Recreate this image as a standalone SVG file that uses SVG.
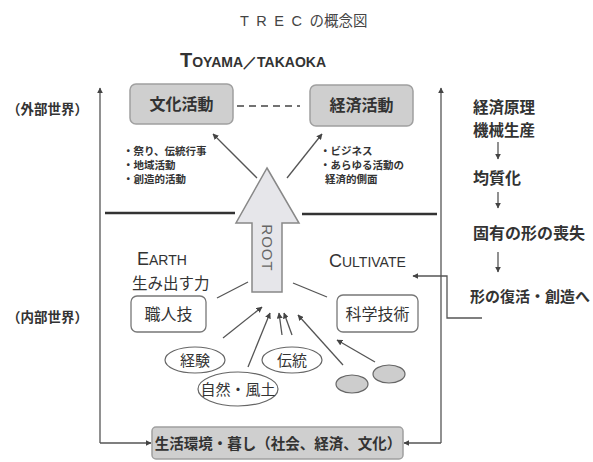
<svg xmlns="http://www.w3.org/2000/svg" width="593" height="462" viewBox="0 0 593 462">
<defs>
<marker id="ah" viewBox="0 0 10 10" refX="9" refY="5" markerWidth="6" markerHeight="6" markerUnits="userSpaceOnUse" orient="auto">
<path d="M0,0 L10,5 L0,10 Z" fill="#444"/>
</marker>
</defs>
<style>
text{font-family:"Noto Sans CJK JP","Noto Sans",sans-serif;fill:#333;font-weight:bold}
.lat{font-family:"Liberation Sans","DejaVu Sans",sans-serif}
.gbox{fill:#cfcfcf;stroke:#a0a0a0;stroke-width:1.5}
.wbox{fill:#fff;stroke:#777;stroke-width:1.3}
.ell{fill:#fff;stroke:#666;stroke-width:1.2}
.gell{fill:#cdcdcd;stroke:#666;stroke-width:1.2}
.ln{fill:none;stroke:#555;stroke-width:1.3}
.arr{fill:none;stroke:#555;stroke-width:1.3;marker-end:url(#ah)}
.thick{stroke:#333;stroke-width:2.5}
.t16{font-size:16px}
.t15{font-size:15px}
.t11{font-size:10.5px}
</style>
<rect width="593" height="462" fill="#fff"/>

<g id="title">
<text x="240" y="26" font-size="14.5" style="font-weight:normal;fill:#444"><tspan class="lat" letter-spacing="7.5">TREC</tspan>の概念図</text>
</g>
<g id="toyama">
<text class="lat" x="180" y="67" style="fill:#333"><tspan font-size="20">T</tspan><tspan font-size="14">OYAMA／TAKAOKA</tspan></text>
</g>

<g id="labels-side">
<text x="7" y="114" font-size="13.5">（外部世界）</text>
<text x="7" y="322" font-size="13.5">（内部世界）</text>
</g>

<g id="connectors">
<path class="arr" d="M100,443 V88"/>
<path class="arr" d="M100,443 H151"/>
<path class="arr" d="M441,443 V88"/>
<path class="arr" d="M441,443 H404"/>
<path d="M237,106 H300" fill="none" stroke="#444" stroke-width="1.6" stroke-dasharray="7,5"/>
<path class="arr" d="M257,178 L213,134"/>
<path class="arr" d="M287,178 L322,134"/>
<path class="ln" d="M217,298 L248,282"/>
<path class="ln" d="M293,283 L327,297"/>
<path class="arr" d="M223,338 L262,307"/>
<path class="arr" d="M248,367 L270,313"/>
<path class="arr" d="M282,335 L279,313"/>
<path class="arr" d="M292,335 L284,313"/>
<path class="arr" d="M343,365 L298,315"/>
<path class="arr" d="M375,362 L337,340"/>
<path class="arr" d="M482,318 H447 V276 H413"/>
<path class="arr" d="M498,142 V159"/>
<path class="arr" d="M498,192 V208"/>
<path class="arr" d="M498,252 V272"/>
<line class="thick" x1="105" y1="213" x2="235" y2="213"/>
<line class="thick" x1="302" y1="214" x2="437" y2="214"/>
</g>

<g id="bunka">
<rect class="gbox" x="130" y="84" width="103" height="40" rx="6"/>
<text class="t16" x="181.5" y="110" text-anchor="middle">文化活動</text>
</g>
<g id="keizai">
<rect class="gbox" x="310" y="85" width="103" height="41" rx="6"/>
<text class="t16" x="361.5" y="111" text-anchor="middle">経済活動</text>
</g>
<g id="bunka-notes">
<text class="t11" x="123" y="155">・祭り、伝統行事</text>
<text class="t11" x="123" y="169">・地域活動</text>
<text class="t11" x="123" y="183">・創造的活動</text>
</g>
<g id="keizai-notes">
<text class="t11" x="320" y="155">・ビジネス</text>
<text class="t11" x="320" y="169">・あらゆる活動の</text>
<text class="t11" x="325" y="183">経済的側面</text>
</g>

<g id="root">
<path d="M267,168 L299,223 L282,223 L282,292 L252,292 L252,223 L236,223 Z" fill="#e6e6ea" stroke="#888" stroke-width="1.5"/>
<text class="lat" x="0" y="0" font-size="15" letter-spacing="1" text-anchor="middle" transform="translate(262,248) rotate(90)" style="fill:#666;font-weight:normal">ROOT</text>
</g>

<g id="earth">
<text class="lat" x="137" y="265" style="font-weight:normal"><tspan font-size="18">E</tspan><tspan font-size="14">ARTH</tspan></text>
<text x="132" y="289" font-size="15.5" style="font-weight:normal">生み出す力</text>
</g>
<g id="cultivate">
<text class="lat" x="329" y="267" style="font-weight:normal"><tspan font-size="18">C</tspan><tspan font-size="14">ULTIVATE</tspan></text>
</g>

<g id="shokunin">
<rect class="wbox" x="131" y="296" width="75" height="36" rx="6"/>
<text class="t16" x="168.5" y="320" text-anchor="middle" style="font-weight:normal">職人技</text>
</g>
<g id="kagaku">
<rect class="wbox" x="337" y="295" width="81" height="37" rx="6"/>
<text class="t16" x="377.5" y="320" text-anchor="middle" style="font-weight:normal">科学技術</text>
</g>

<g id="keiken">
<ellipse class="ell" cx="195" cy="360" rx="30" ry="13"/>
<text class="t15" x="195" y="365.5" text-anchor="middle" style="font-weight:normal">経験</text>
</g>
<g id="dento">
<ellipse class="ell" cx="292" cy="360" rx="30" ry="13"/>
<text class="t15" x="292" y="365.5" text-anchor="middle" style="font-weight:normal">伝統</text>
</g>
<g id="shizen">
<ellipse class="ell" cx="238" cy="389" rx="40" ry="17"/>
<text class="t15" x="238" y="395" text-anchor="middle" style="font-weight:normal">自然・風土</text>
</g>
<g id="gray1">
<ellipse class="gell" cx="352" cy="384" rx="16" ry="9"/>
</g>
<g id="gray2">
<ellipse class="gell" cx="389" cy="374" rx="16" ry="9"/>
</g>

<g id="seikatsu">
<rect class="gbox" x="152" y="427" width="251" height="32" rx="4"/>
<text x="278" y="449" font-size="14.5" text-anchor="middle">生活環境・暮し（社会、経済、文化）</text>
</g>

<g id="right-column">
<text x="473" y="113" font-size="15.5">経済原理</text>
<text x="473" y="136" font-size="15.5">機械生産</text>
<text class="t16" x="473" y="184">均質化</text>
<text class="t16" x="473" y="239">固有の形の喪失</text>
<text x="470" y="302" font-size="15">形の復活・創造へ</text>
</g>
</svg>
